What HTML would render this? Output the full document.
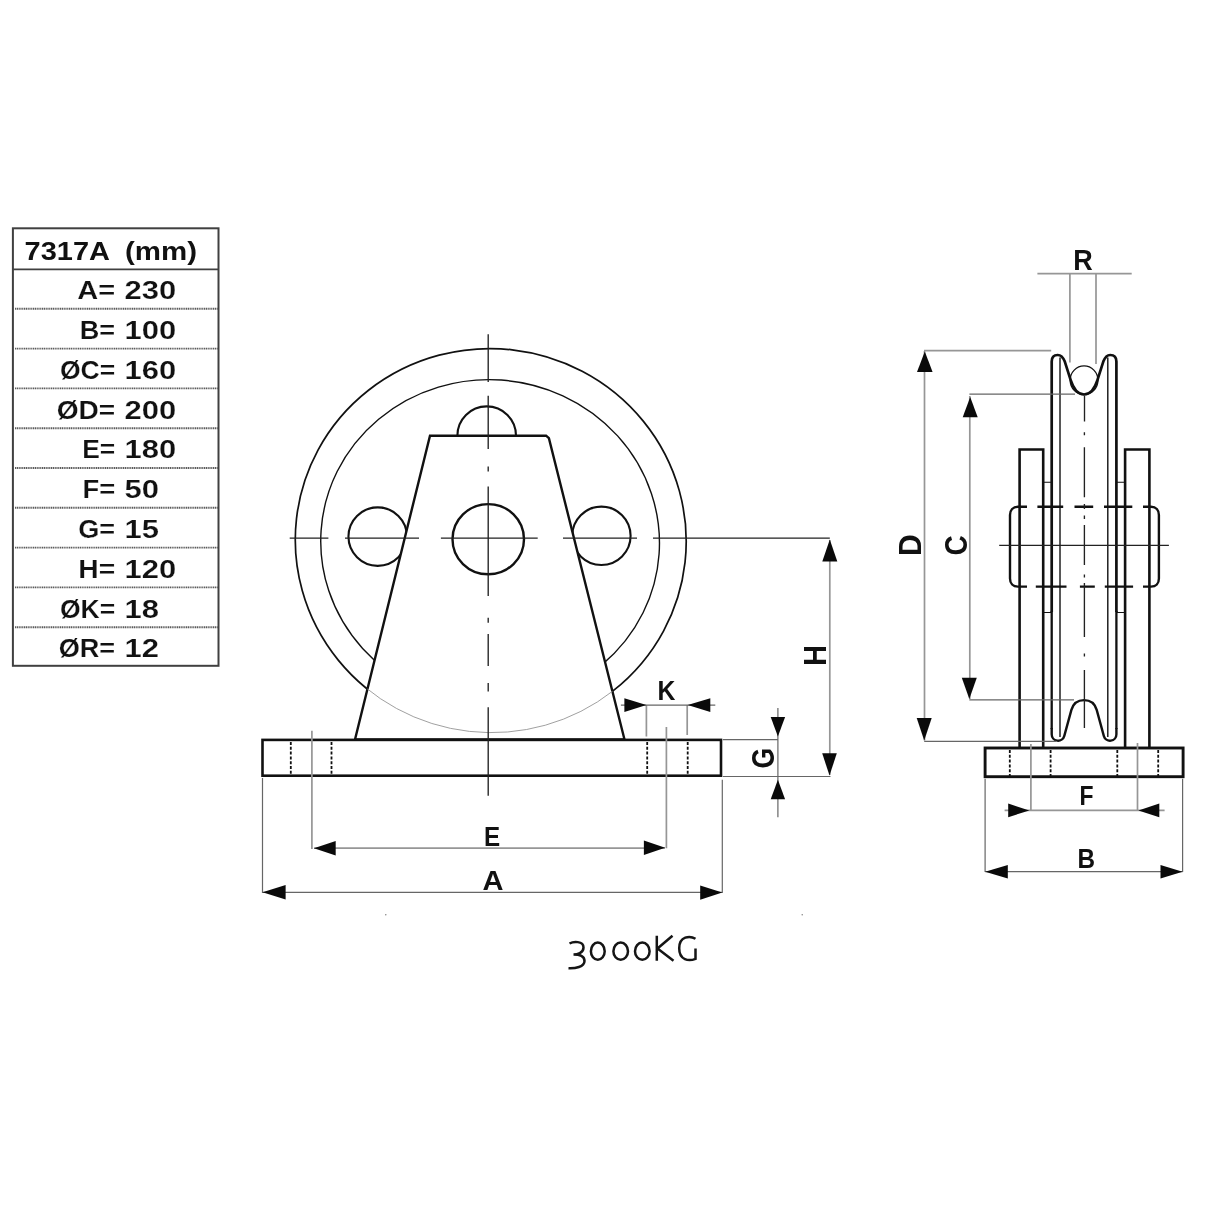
<!DOCTYPE html>
<html><head><meta charset="utf-8"><title>7317A</title>
<style>
html,body{margin:0;padding:0;background:#fff;}
body{width:1214px;height:1214px;overflow:hidden;}
svg{display:block;filter:blur(0.55px);}
text{font-family:"Liberation Sans",sans-serif;fill:#111;}
.b{font-weight:bold;}
.k{stroke:#111;fill:none;}
.g{stroke:#969696;fill:none;stroke-width:1.7;}
.g2{stroke:#666;fill:none;stroke-width:1.2;}
.c{stroke:#222;fill:none;stroke-width:1.35;}
.ar{fill:#0a0a0a;stroke:none;}
</style></head>
<body>
<svg width="1214" height="1214" viewBox="0 0 1214 1214">
<rect x="0" y="0" width="1214" height="1214" fill="#fff"/>

<!-- ===== TABLE ===== -->
<g id="table">
<rect x="12.9" y="228.3" width="205.6" height="437.5" fill="none" stroke="#404040" stroke-width="2"/>
<line x1="12.9" y1="269.4" x2="218.5" y2="269.4" stroke="#404040" stroke-width="1.8"/>
<g stroke="#5c5c5c" stroke-width="1.9" stroke-dasharray="1.2 0.6">
<line x1="15" y1="308.8" x2="218" y2="308.8"/>
<line x1="15" y1="348.6" x2="218" y2="348.6"/>
<line x1="15" y1="388.4" x2="218" y2="388.4"/>
<line x1="15" y1="428.2" x2="218" y2="428.2"/>
<line x1="15" y1="468" x2="218" y2="468"/>
<line x1="15" y1="507.8" x2="218" y2="507.8"/>
<line x1="15" y1="547.6" x2="218" y2="547.6"/>
<line x1="15" y1="587.4" x2="218" y2="587.4"/>
<line x1="15" y1="627.2" x2="218" y2="627.2"/>
</g>
<g class="b" font-size="25.5">
<text x="24.6" y="260.1" textLength="85.3" lengthAdjust="spacingAndGlyphs">7317A</text>
<text x="125" y="260.1" textLength="72" lengthAdjust="spacingAndGlyphs">(mm)</text>
</g>
<g class="b" font-size="25" id="rows" stroke="#fff" stroke-width="0.18">
<text transform="translate(115.2,299.1) scale(1.16,1)" text-anchor="end">A=</text><text transform="translate(124.6,299.1) scale(1.24,1)">230</text>
<text transform="translate(115.2,338.9) scale(1.086,1)" text-anchor="end">B=</text><text transform="translate(124.6,338.9) scale(1.24,1)">100</text>
<text transform="translate(115.2,378.7) scale(1.06,1)" text-anchor="end">ØC=</text><text transform="translate(124.6,378.7) scale(1.24,1)">160</text>
<text transform="translate(115.2,418.5) scale(1.124,1)" text-anchor="end">ØD=</text><text transform="translate(124.6,418.5) scale(1.24,1)">200</text>
<text transform="translate(115.2,458.3) scale(1.057,1)" text-anchor="end">E=</text><text transform="translate(124.6,458.3) scale(1.24,1)">180</text>
<text transform="translate(115.2,498.1) scale(1.096,1)" text-anchor="end">F=</text><text transform="translate(124.6,498.1) scale(1.24,1)">50</text>
<text transform="translate(115.2,537.9) scale(1.084,1)" text-anchor="end">G=</text><text transform="translate(124.6,537.9) scale(1.24,1)">15</text>
<text transform="translate(115.2,577.7) scale(1.13,1)" text-anchor="end">H=</text><text transform="translate(124.6,577.7) scale(1.24,1)">120</text>
<text transform="translate(115.2,617.5) scale(1.06,1)" text-anchor="end">ØK=</text><text transform="translate(124.6,617.5) scale(1.24,1)">18</text>
<text transform="translate(115.2,657.3) scale(1.086,1)" text-anchor="end">ØR=</text><text transform="translate(124.6,657.3) scale(1.24,1)">12</text>
</g>
</g>

<!-- ===== FRONT VIEW ===== -->
<defs>
<clipPath id="trapclip"><polygon points="430,435.7 546.1,435.7 548.9,438.2 624.5,739.5 355,739.5"/></clipPath>
</defs>
<g id="front">
<ellipse class="k" cx="490.75" cy="540.6" rx="195.5" ry="192" transform="rotate(6.4 490.75 540.6)" stroke-width="1.7"/>
<ellipse class="k" cx="490.1" cy="542.15" rx="169.4" ry="162.5" transform="rotate(4 490.1 542.15)" stroke-width="1.4"/>
<circle class="k" cx="377.7" cy="536.6" r="29.25" stroke-width="2.1"/>
<circle class="k" cx="601.4" cy="535.85" r="29.2" stroke-width="2.1"/>
<circle class="k" cx="486.7" cy="435.7" r="29.3" stroke-width="2.1"/>
<polygon points="430,435.7 546.1,435.7 548.9,438.2 624.5,739.5 355,739.5" fill="#fff" stroke="#111" stroke-width="2.4" stroke-linejoin="miter"/>
<g clip-path="url(#trapclip)"><ellipse cx="490.75" cy="540.6" rx="195.5" ry="192" transform="rotate(6.4 490.75 540.6)" fill="none" stroke="#9a9a9a" stroke-width="0.9"/></g>
<ellipse class="k" cx="488.25" cy="539.2" rx="35.75" ry="35.1" stroke-width="2.4"/>
<rect class="k" x="262.5" y="739.9" width="458.5" height="35.8" stroke-width="2.6" fill="#fff"/>
<g class="k" stroke-width="1.8" stroke-dasharray="3 1.8">
<line x1="290.8" y1="742" x2="290.8" y2="775"/>
<line x1="331.5" y1="742" x2="331.5" y2="775"/>
<line x1="647.2" y1="742" x2="647.2" y2="775"/>
<line x1="687.7" y1="742" x2="687.7" y2="775"/>
</g>
<!-- centerlines -->
<g class="c">
<path d="M488.2 334.2V382M488.2 395.7V449M488.2 466.4V471.4M488.2 486.4V596M488.2 617.7V622.8M488.2 634.1V666.1M488.2 683.1V691.4M488.2 707.2V795.8"/>
<path d="M289.7 538.2H328.4M345 538.2H419M440.9 538.2H537.7M563 538.2H637M653 538.2H829.8" stroke-width="1.2"/>
</g>
</g>

<!-- ===== FRONT DIMS ===== -->
<g id="fdims">
<!-- E -->
<path class="g" d="M311.9 730.7V848.9M666.4 727V848.2M314 848.2H665"/>
<polygon class="ar" points="313.9,848.2 335.7,841 335.7,855.4"/>
<polygon class="ar" points="665.2,847.8 643.9,840.6 643.9,855"/>
<!-- A -->
<path class="g2" d="M262.5 778V893M722.3 779.7V893M263 892.4H722"/>
<polygon class="ar" points="262.5,892.2 285.6,885 285.6,899.4"/>
<polygon class="ar" points="722.3,892.6 700.2,885.4 700.2,899.8"/>
<!-- K -->
<path class="g" d="M646.4 705V736.4M687.2 705V735"/>
<path class="g2" d="M620.9 705.1H715.3"/>
<polygon class="ar" points="646.4,705.1 624.4,698.2 624.4,712"/>
<polygon class="ar" points="687.7,705.1 710.3,698.2 710.3,712"/>
<!-- G -->
<path class="g2" d="M777.9 708V817.3M722.8 739.6H777.9M722.8 776.5H830.5"/>
<polygon class="ar" points="777.9,736.4 770.7,717 785.1,717"/>
<polygon class="ar" points="777.9,779.7 770.7,799.2 785.1,799.2"/>
<!-- H -->
<path class="g" d="M829.8 540V775"/>
<polygon class="ar" points="829.8,539.6 822.3,561.4 837.3,561.4"/>
<polygon class="ar" points="829.5,775.6 822.2,753.3 836.8,753.3"/>
</g>
<g class="b" id="flabels">
<text id="lE" font-size="28.5" transform="translate(484,845.6) scale(0.85,1)">E</text>
<text id="lA" font-size="28.5" transform="translate(482.6,890.2) scale(1.02,1)">A</text>
<text id="lK" font-size="27.5" transform="translate(657.5,700) scale(0.9,1)">K</text>
<text id="lG" font-size="31" transform="translate(774.1,768.5) rotate(-90) scale(0.86,1)">G</text>
<text id="lH" font-size="31" transform="translate(825.8,666) rotate(-90) scale(0.94,1)">H</text>
</g>

<!-- 3000KG -->
<g id="kg" fill="none" stroke="#151515" stroke-width="2.5" stroke-linecap="butt">
<path d="M569.5 943.5C573 941.5 583.5 940.5 583.5 947.5C583.5 953 577 954.5 573.5 954.5C578 954.5 584.5 955.5 584.5 961C584.5 967 575 968.5 568.5 968.2"/>
<ellipse cx="597.8" cy="951.2" rx="6.9" ry="8.6"/>
<ellipse cx="620.7" cy="951.2" rx="7.3" ry="8.6"/>
<ellipse cx="642.3" cy="951.2" rx="7.3" ry="8.6"/>
<path d="M656.8 935.8V960.7M672.5 935.8L657.5 948.5L673.5 960.7"/>
<path d="M695.5 938.8C690 935.5 679.2 936 679.2 948.3C679.2 960.5 689 961.5 695.5 958.8V948.5"/>
</g>

<!-- ===== SIDE VIEW ===== -->
<g id="side">
<!-- base -->
<rect class="k" x="985.1" y="748" width="198" height="28.7" stroke-width="2.9"/>
<g class="k" stroke-width="1.8" stroke-dasharray="3 1.8">
<line x1="1009.8" y1="750" x2="1009.8" y2="776"/>
<line x1="1050.6" y1="750" x2="1050.6" y2="776"/>
<line x1="1117.3" y1="750" x2="1117.3" y2="776"/>
<line x1="1158.2" y1="750" x2="1158.2" y2="776"/>
</g>
<!-- plates -->
<path class="k" stroke-width="2.6" d="M1019.6 747V449.5H1043.2V747M1125.1 747V449.5H1149.4V747"/>
<!-- bushings -->
<path class="k" stroke-width="1.1" stroke="#555" d="M1043.2 482.2H1052.1M1043.2 612.5H1052.1M1116.5 482.2H1125.1M1116.5 612.5H1125.1"/>
<!-- sheave outer -->
<path class="k" stroke-width="2.7" stroke-linejoin="round" d="M1051.7 612V361.5C1051.7 357.2 1054 355 1057.7 355C1061 355 1063 357 1064.8 361.6L1070.6 379.9C1073.5 389 1077.8 394.5 1084.05 394.5C1090.3 394.5 1094.6 389 1097.5 379.9L1103.3 361.6C1105.1 357 1107 355 1110.2 355C1114 355 1116.4 357.2 1116.4 361.5V612"/>
<path class="k" stroke-width="2.3" d="M1051.7 611V729M1116.4 611V729"/>
<path class="k" stroke="#3a3a3a" stroke-width="1.4" d="M1060 357.5V737M1107.8 357.5V737"/>
<!-- bottom groove -->
<path class="k" stroke-width="2.4" stroke-linejoin="round" d="M1051.7 728V734.2A6.4 6.4 0 0 0 1064.3 735.9L1071.4 709.9C1073.5 702.4 1078.3 700.1 1084.05 700.1C1089.8 700.1 1094.6 702.4 1096.7 709.9L1103.8 735.9A6.4 6.4 0 0 0 1116.4 734.2V728"/>
<!-- rope -->
<ellipse class="k" cx="1084.05" cy="380.2" rx="13.9" ry="14.3" stroke-width="1.3"/>
<!-- axle -->
<path class="k" stroke-width="2.4" d="M1027 506.800H1018C1013 506.800 1010 510 1010 515V578.500C1010 583.500 1013 586.600 1018 586.600H1027"/>
<path class="k" stroke-width="2.4" d="M1143 506.800H1151C1156 506.800 1158.900 510 1158.900 515V578.500C1158.900 583.500 1156 586.600 1151 586.600H1143"/>
<path class="k" stroke-width="2.4" d="M1037.400 506.800H1063.200M1074.500 506.800H1093.200M1104 506.800H1132.300M1035.800 586.600H1066.500M1079.900 586.600H1094.800M1104.800 586.600H1133.100"/>
<!-- centerlines -->
<g class="c" stroke-width="1.6">
<path d="M999.2 545.4H1168.9" stroke-width="1.2"/>
<path d="M1084.5 395.7V421.5M1084.4 432.3V435.2M1084.4 447.3V497.2M1084.4 504V509M1084.400 515.5V519M1084.4 525V565M1084.400 574.500V577.500M1084.4 583V637M1084.400 653.500V656.500M1084.400 670V728"/>
</g>
</g>

<!-- ===== SIDE DIMS ===== -->
<g id="sdims">
<!-- R -->
<path class="g" d="M1037.4 273.6H1131.7M1069.9 273.6V362.4M1096 273.6V364.1"/>
<!-- D -->
<path class="g" d="M924.5 351V740.500"/>
<path class="g" d="M924 350.600H1051.200"/><path class="g2" stroke="#777" d="M924.200 741.300H1056" />
<polygon class="ar" points="924.8,351.5 917,372.1 932.6,372.1"/>
<polygon class="ar" points="924.2,740.4 916.700,717.9 931.700,717.900"/>
<!-- C -->
<path class="g" d="M969.800 396V699"/>
<path class="g2" stroke="#777" stroke-width="1.3" d="M969.4 394.2H1075M969.300 699.900H1074"/>
<polygon class="ar" points="970.2,396.9 962.700,417.3 977.700,417.300"/>
<polygon class="ar" points="969.3,699.1 961.800,677.800 976.800,677.800"/>
<!-- F -->
<path class="g" d="M1030.9 744V810.400M1137.500 743V810.400M1004.600 810.400H1164.600"/>
<polygon class="ar" points="1029.300,810.400 1008.200,803.600 1008.200,817.200"/>
<polygon class="ar" points="1138.400,810.400 1159.300,803.600 1159.300,817.200"/>
<!-- B -->
<path class="g2" d="M985.100 778.700V872M1182.600 778.700V872M985.100 871.700H1182.600"/>
<polygon class="ar" points="985.100,871.700 1007.800,864.900 1007.800,878.500"/>
<polygon class="ar" points="1182.600,871.700 1160.500,864.900 1160.500,878.500"/>
</g>
<g class="b" id="slabels">
<text id="lR" font-size="29" transform="translate(1073.3,269.8) scale(0.93,1)">R</text>
<text id="lD" font-size="31" transform="translate(920.9,556) rotate(-90) scale(0.97,1)">D</text>
<text id="lC" font-size="31" transform="translate(966.8,555.5) rotate(-90) scale(0.9,1)">C</text>
<text id="lF" font-size="27" transform="translate(1079.5,804.8) scale(0.85,1)">F</text>
<text id="lB" font-size="27" transform="translate(1077.5,868.1) scale(0.9,1)">B</text>
</g>
<!-- specks -->
<circle cx="385.800" cy="914.800" r="0.700" fill="#777"/>
<circle cx="802.200" cy="914.700" r="0.700" fill="#777"/>
</svg>
</body></html>
